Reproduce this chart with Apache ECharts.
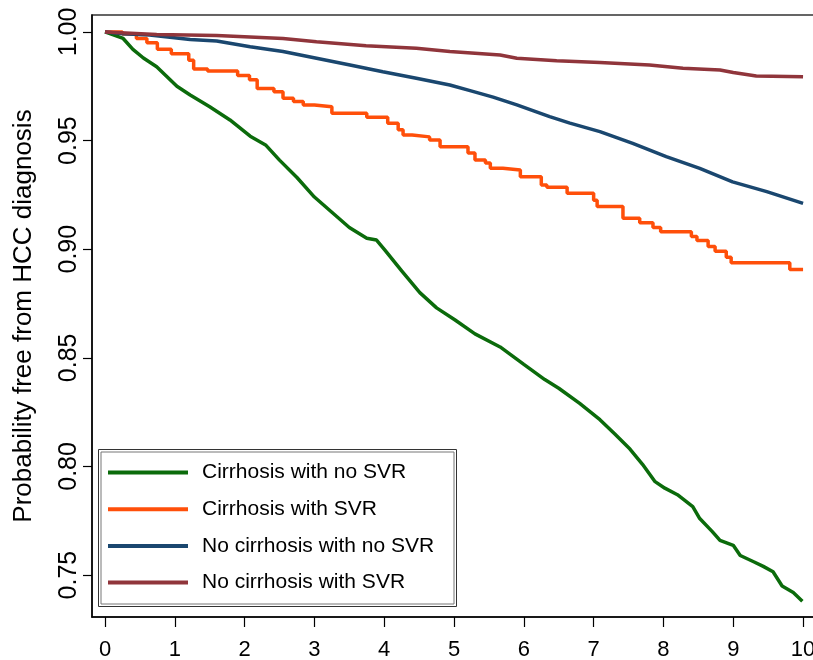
<!DOCTYPE html>
<html>
<head>
<meta charset="utf-8">
<script src="https://cdn.jsdelivr.net/npm/echarts@6/dist/echarts.min.js"></script>
<style>html,body{margin:0;padding:0;background:#fff;}#chart{width:813px;height:660px;}</style>
</head>
<body>
<div id="chart"></div>
<script>
const seriesNames = ['Cirrhosis with no SVR', 'Cirrhosis with SVR', 'No cirrhosis with no SVR', 'No cirrhosis with SVR'];
const xTicks = [0,1,2,3,4,5,6,7,8,9,10];
const yTicks = [0.75,0.80,0.85,0.90,0.95,1.00];
const yTitle = 'Probability free from HCC diagnosis';

const cirrhosisNoSVR = [[0,1.0],[0.26,0.997],[0.4,0.992],[0.55,0.988],[0.74,0.984],[1.03,0.975],[1.22,0.971],[1.5,0.9656],[1.79,0.9595],[2.08,0.952],[2.3,0.948],[2.5,0.941],[2.75,0.933],[3.0,0.924],[3.25,0.917],[3.5,0.910],[3.75,0.905],[3.89,0.9042],[4.01,0.8996],[4.25,0.890],[4.51,0.880],[4.75,0.873],[5.01,0.8675],[5.3,0.861],[5.66,0.855],[6.0,0.847],[6.3,0.840],[6.5,0.836],[6.8,0.829],[7.09,0.8215],[7.3,0.815],[7.52,0.808],[7.7,0.801],[7.88,0.793],[8.02,0.790],[8.2,0.787],[8.42,0.7815],[8.52,0.776],[8.7,0.770],[8.81,0.766],[9.0,0.7637],[9.1,0.759],[9.3,0.756],[9.43,0.754],[9.57,0.7515],[9.7,0.745],[9.86,0.742],[9.99,0.738]];

const cirrhosisSVR = [[0,1.0],[0.25,0.999],[0.45,0.997],[0.6,0.995],[0.75,0.992],[0.95,0.990],[1.2,0.987],[1.27,0.983],[1.47,0.982],[1.9,0.980],[2.07,0.978],[2.18,0.974],[2.42,0.9725],[2.55,0.9695],[2.7,0.968],[2.84,0.9664],[3.0,0.9656],[3.25,0.9626],[3.75,0.9607],[4.05,0.958],[4.2,0.955],[4.27,0.9526],[4.4,0.9517],[4.65,0.9503],[4.8,0.9472],[5.2,0.9443],[5.3,0.9411],[5.45,0.9397],[5.52,0.9373],[5.7,0.9365],[5.95,0.9334],[6.25,0.9296],[6.33,0.9285],[6.62,0.9257],[7.0,0.9225],[7.05,0.9196],[7.42,0.9142],[7.66,0.9122],[7.85,0.910],[7.96,0.908],[8.4,0.9058],[8.48,0.904],[8.64,0.9012],[8.74,0.899],[8.9,0.8963],[8.97,0.8938],[9.81,0.8907],[10.0,0.8907]];

const noCirrhosisNoSVR = [[0,1.0],[0.26,0.9992],[0.64,0.9986],[1.22,0.9965],[1.6,0.9958],[2.08,0.9932],[2.55,0.991],[3.03,0.9879],[3.51,0.9848],[3.98,0.9817],[4.46,0.9787],[4.94,0.9756],[5.23,0.973],[5.56,0.970],[5.9,0.9664],[6.37,0.961],[6.66,0.958],[7.09,0.9541],[7.56,0.9487],[8.04,0.9426],[8.52,0.9372],[8.99,0.931],[9.48,0.9265],[10.0,0.9211]];

const noCirrhosisSVR = [[0,1.0],[0.74,0.9988],[1.6,0.9984],[2.55,0.997],[3.03,0.9955],[3.74,0.9937],[4.46,0.9925],[4.94,0.991],[5.66,0.9894],[5.9,0.9879],[6.47,0.9867],[7.09,0.9859],[7.8,0.9848],[8.28,0.9833],[8.81,0.9825],[9.0,0.9813],[9.33,0.9797],[10.0,0.9794]];

const seriesData = [cirrhosisNoSVR, cirrhosisSVR, noCirrhosisNoSVR, noCirrhosisSVR];
const colors = ['#0b6b0b', '#ff4f0a', '#1a476f', '#90353b'];
const steps = [false, 'end', false, false];

const regular = "'Liberation Sans', Arial, sans-serif";

const chart = echarts.init(document.getElementById('chart'), null, {renderer: 'canvas'});
chart.setOption({
  animation: false,
  backgroundColor: '#fff',
  grid: {left: 92, top: 15, right: -11, bottom: 43, show: true, borderColor: '#333', borderWidth: 1.5, outerBoundsMode: 'none'},
  xAxis: {
    type: 'value', min: -0.1862, max: 10.3,
    axisLine: {show: true, onZero: false, lineStyle: {color: '#000', width: 1.5}},
    axisTick: {show: true, length: 10, lineStyle: {color: '#000', width: 1.2}, customValues: xTicks},
    axisLabel: {show: true, customValues: xTicks, color: '#000', fontSize: 22, fontFamily: regular, margin: 22},
    splitLine: {show: false}
  },
  yAxis: {
    type: 'value', min: 0.7307, max: 1.0078,
    name: yTitle, nameLocation: 'middle', nameRotate: 90, nameGap: 55,
    nameTextStyle: {color: '#000', fontSize: 26, fontFamily: regular},
    axisLine: {show: true, onZero: false, lineStyle: {color: '#000', width: 1.5}},
    axisTick: {show: true, length: 9, lineStyle: {color: '#000', width: 1.2}, customValues: yTicks},
    axisLabel: {show: true, customValues: yTicks, rotate: 90, color: '#000', fontSize: 25, fontFamily: regular, margin: 10, formatter: v => v.toFixed(2)},
    splitLine: {show: false}
  },
  legend: {
    orient: 'vertical', left: 108, top: 460, padding: 0,
    icon: 'rect', itemWidth: 80, itemHeight: 4, itemGap: 11.7,
    data: seriesNames,
    textStyle: {color: '#000', fontSize: 21, lineHeight: 25, fontFamily: regular, padding: [0,0,0,9]}
  },
  graphic: [
    {type: 'rect', shape: {x: 98.5, y: 449.5, width: 358, height: 157}, style: {fill: 'none', stroke: '#333', lineWidth: 1}, z: 100},
    {type: 'rect', shape: {x: 101, y: 452, width: 353, height: 152}, style: {fill: 'none', stroke: '#777', lineWidth: 1}, z: 100}
  ],
  series: seriesNames.map((n, i) => ({
    name: n, type: 'line', data: seriesData[i], step: steps[i],
    symbol: 'none', showSymbol: false,
    lineStyle: {color: colors[i], width: 3.5},
    itemStyle: {color: colors[i]}
  }))
});
</script>
</body>
</html>
